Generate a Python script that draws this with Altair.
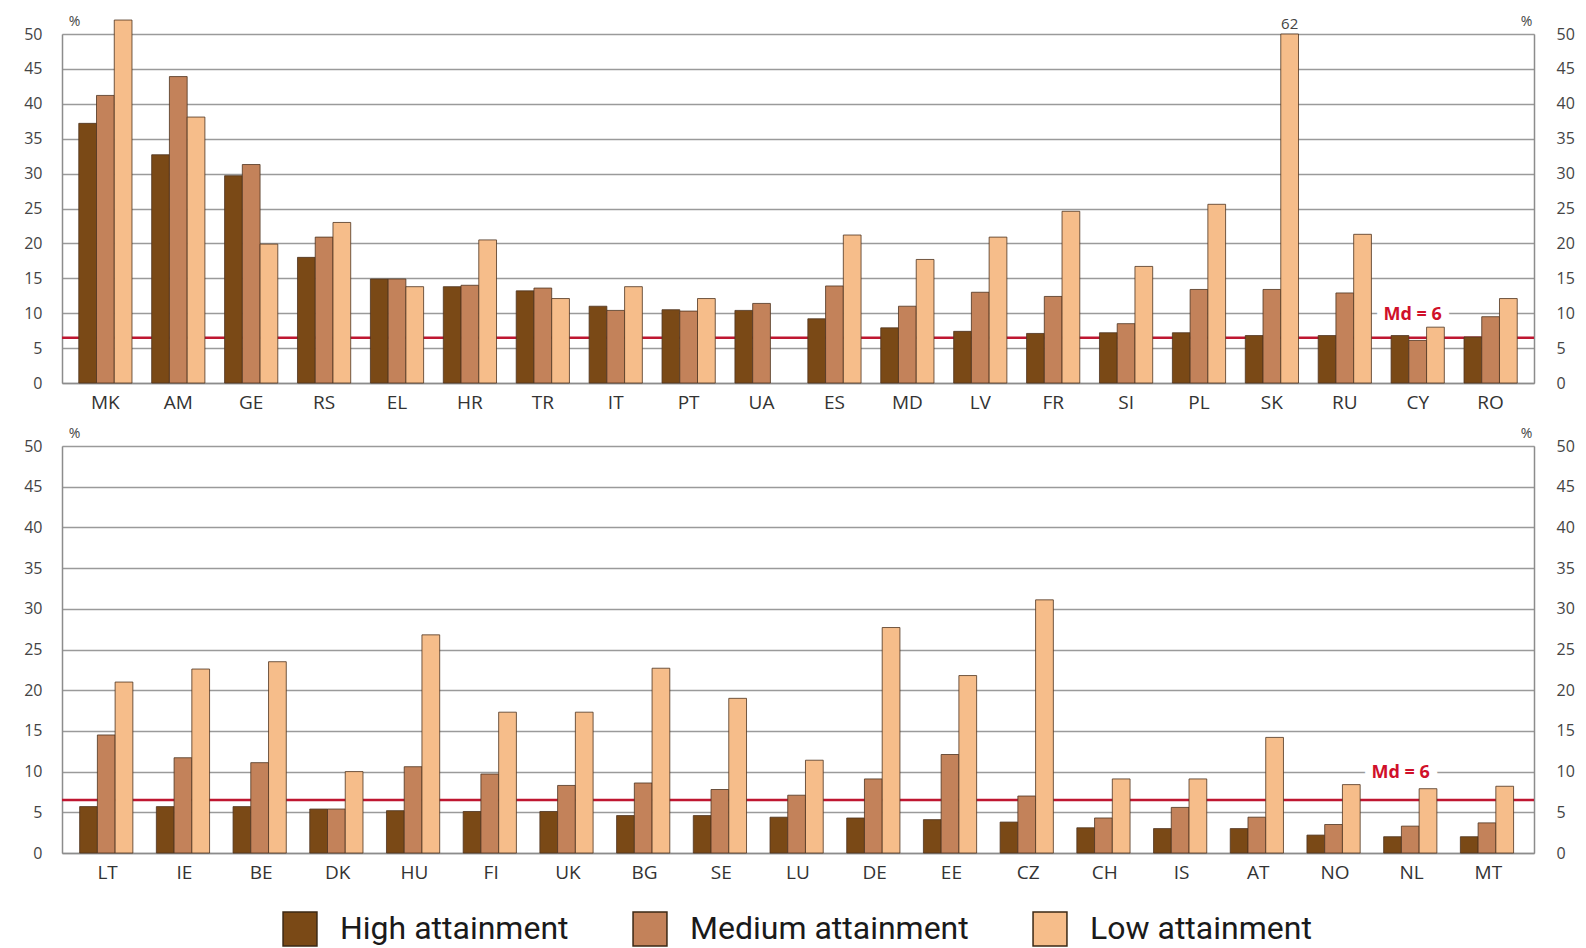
import altair as alt
import pandas as pd

LEVELS = ["High attainment", "Medium attainment", "Low attainment"]
COLORS = ["#7a4916", "#c3825a", "#f6bd8a"]

TOP_COUNTRIES = ["MK", "AM", "GE", "RS", "EL", "HR", "TR", "IT", "PT", "UA",
                 "ES", "MD", "LV", "FR", "SI", "PL", "SK", "RU", "CY", "RO"]
TOP_HIGH = [37.2, 32.7, 29.7, 18.0, 14.9, 13.8, 13.2, 11.0, 10.5, 10.4,
            9.2, 7.9, 7.4, 7.1, 7.2, 7.2, 6.8, 6.8, 6.8, 6.6]
TOP_MEDIUM = [41.2, 43.9, 31.3, 20.9, 14.9, 14.0, 13.6, 10.4, 10.3, 11.4,
              13.9, 11.0, 13.0, 12.4, 8.5, 13.4, 13.4, 12.9, 6.1, 9.5]
TOP_LOW = [52.0, 38.1, 19.9, 23.0, 13.8, 20.5, 12.1, 13.8, 12.1, None,
           21.2, 17.7, 20.9, 24.6, 16.7, 25.6, 62.0, 21.3, 8.0, 12.1]

BOTTOM_COUNTRIES = ["LT", "IE", "BE", "DK", "HU", "FI", "UK", "BG", "SE", "LU",
                    "DE", "EE", "CZ", "CH", "IS", "AT", "NO", "NL", "MT"]
BOTTOM_HIGH = [5.7, 5.7, 5.7, 5.4, 5.2, 5.1, 5.1, 4.6, 4.6, 4.4,
               4.3, 4.1, 3.8, 3.1, 3.0, 3.0, 2.2, 2.0, 2.0]
BOTTOM_MEDIUM = [14.5, 11.7, 11.1, 5.4, 10.6, 9.7, 8.3, 8.6, 7.8, 7.1,
                 9.1, 12.1, 7.0, 4.3, 5.6, 4.4, 3.5, 3.3, 3.7]
BOTTOM_LOW = [21.0, 22.6, 23.5, 10.0, 26.8, 17.3, 17.3, 22.7, 19.0, 11.4,
              27.7, 21.8, 31.1, 9.1, 9.1, 14.2, 8.4, 7.9, 8.2]

MEDIAN_LINE = 6.5
MEDIAN_LABEL = "Md = 6"
Y_TICKS = list(range(0, 51, 5))
CAP = 50

PLOT_W = 1472
FONT = "Open Sans"


def long_df(countries, high, med, low):
    rows = []
    for i, c in enumerate(countries):
        for lvl, vals in zip(LEVELS, [high, med, low]):
            v = vals[i]
            if v is not None:
                rows.append({"country": c, "level": lvl, "value": v})
    return pd.DataFrame(rows)


def yscale():
    return alt.Scale(domain=[0, 50], nice=False, zero=True)


def panel(countries, high, med, low, h, md_country, md_dx):
    df = long_df(countries, high, med, low)
    xenc = alt.X(
        "country:N", sort=countries,
        scale=alt.Scale(paddingInner=0.27, paddingOuter=0.23),
        axis=alt.Axis(title=None, labelAngle=0, labelAlign="center",
                      labelBaseline="top", ticks=False, domain=True,
                      domainColor="#8c8c8c", domainWidth=1.5,
                      labelFontSize=19, labelColor="#333333",
                      labelFont=FONT, labelPadding=10),
    )
    xoff = alt.XOffset("level:N", sort=LEVELS,
                       scale=alt.Scale(domain=LEVELS, paddingInner=0, paddingOuter=0))
    color = alt.Color(
        "level:N", sort=LEVELS,
        scale=alt.Scale(domain=LEVELS, range=COLORS),
        legend=alt.Legend(
            title=None, orient="none", direction="horizontal", columns=3,
            legendX=220, legendY=877,
            symbolType="square", symbolSize=1150, symbolStrokeColor="#3b2815",
            symbolStrokeWidth=1.5, symbolOpacity=1,
            labelFontSize=32, labelFont="Roboto", labelColor="#1a1a1a",
            labelOffset=22, columnPadding=61, labelLimit=400,
        ),
    )
    base = alt.Chart(df)

    rule = alt.Chart(pd.DataFrame({"m": [MEDIAN_LINE]})).mark_rule(
        color="#bf1731", strokeWidth=2.5
    ).encode(
        y=alt.Y("m:Q", scale=yscale(), axis=alt.Axis(
            orient="right", values=Y_TICKS, grid=False, ticks=False,
            domain=True, domainColor="#8c8c8c", domainWidth=1.5,
            labelPadding=22, labelFontSize=16, labelColor="#444444",
            labelFont=FONT, title="%", titleAngle=0, titleX=-8, titleY=-13,
            titleAlign="center", titleBaseline="middle", titleFontSize=14,
            titleFontWeight="normal", titleColor="#444444", titleFont=FONT))
    )

    md_df = pd.DataFrame({"country": [md_country], "label": [MEDIAN_LABEL], "yy": [9.8]})
    halo = alt.Chart(md_df).mark_text(
        fontSize=18, fontWeight="bold", font=FONT, fill="white", stroke="white",
        strokeWidth=16, dx=md_dx
    ).encode(x=xenc, y=alt.Y("yy:Q", scale=yscale(), axis=None), text="label:N")

    bars = base.mark_bar(stroke="#4e341f", strokeWidth=0.8, clip=False).encode(
        x=xenc,
        xOffset=xoff,
        y=alt.Y("shown:Q", scale=yscale(), axis=alt.Axis(
            orient="left", values=Y_TICKS, grid=True, gridColor="#9a9a9a",
            gridWidth=1.5, ticks=False, domain=True, domainColor="#8c8c8c",
            domainWidth=1.5, labelPadding=20, labelFontSize=16,
            labelColor="#444444", labelFont=FONT, title="%", titleAngle=0,
            titleX=12, titleY=-13, titleAlign="center", titleBaseline="middle",
            titleFontSize=14, titleFontWeight="normal", titleColor="#444444",
            titleFont=FONT)),
        color=color,
    ).transform_calculate(shown=f"datum.value > {CAP} + 5 ? {CAP} : datum.value")

    over = base.transform_filter(f"datum.value > {CAP} + 5").transform_calculate(
        top=str(CAP)
    ).mark_text(fontSize=15, font=FONT, color="#444444", dy=-10).encode(
        x=xenc,
        xOffset=xoff,
        y=alt.Y("top:Q", scale=yscale(), axis=None),
        text=alt.Text("value:Q", format="d"),
    )

    md_text = alt.Chart(md_df).mark_text(
        fontSize=18, fontWeight="bold", font=FONT, color="#d0102a", dx=md_dx
    ).encode(x=xenc, y=alt.Y("yy:Q", scale=yscale(), axis=None), text="label:N")

    return alt.layer(rule, halo, bars, over, md_text).resolve_scale(
        y="independent"
    ).properties(width=PLOT_W, height=h)


top = panel(TOP_COUNTRIES, TOP_HIGH, TOP_MEDIUM, TOP_LOW, 349, "CY", -5)
bottom = panel(BOTTOM_COUNTRIES, BOTTOM_HIGH, BOTTOM_MEDIUM, BOTTOM_LOW, 407, "NL", -11)

chart = alt.vconcat(top, bottom, spacing=12).properties(
    padding={"left": 15, "top": 5, "right": 0, "bottom": 30}
).configure_view(stroke=None).configure(background="white")

chart.save("out.html", embed_options={"renderer": "svg", "actions": False})
